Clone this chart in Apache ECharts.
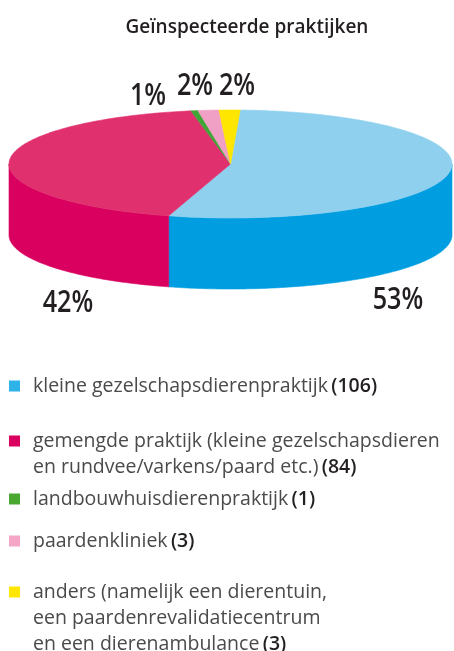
<!DOCTYPE html>
<html>
<head>
<meta charset="utf-8">
<script src="https://cdn.jsdelivr.net/npm/echarts@6/dist/echarts.min.js"></script>
<style>
  html, body { margin: 0; padding: 0; background: #fff; }
  #main { width: 454px; height: 651px; }
</style>
</head>
<body>
<div id="main"></div>
<script>
// categories and counts as in the legend
var categories = [
  'kleine gezelschapsdierenpraktijk',
  'gemengde praktijk (kleine gezelschapsdieren\nen rundvee/varkens/paard etc.)',
  'landbouwhuisdierenpraktijk',
  'paardenkliniek',
  'anders (namelijk een dierentuin,\neen paardenrevalidatiecentrum\nen een dierenambulance'
];
var counts = [106, 84, 1, 3, 3];
var pctLabels = ['53%', '42%', '1%', '2%', '2%'];

var topColors  = ['#8fd0ee', '#e0306e', '#3fa535', '#f0a0c4', '#ffe600'];
var sideColors = ['#009ee0', '#d9005f', '#2f9428', '#e58db2', '#f2d800'];
var legendColors = ['#2db3e8', '#d9005f', '#4aa832', '#f3a6c6', '#ffe600'];

// pie geometry (screen px)
var cx = 230.5, cy = 164, rx = 221.5, ry = 54, depth = 71;
var startAngle = -87.5;   // degrees, clockwise from 3 o'clock

// where the percent labels sit
var labelPos = [[398, 300], [68, 303], [148, 96], [195, 86], [237, 86]];

var total = counts.reduce(function (a, b) { return a + b; }, 0);

function ept(deg, dy) {
  var r = deg * Math.PI / 180;
  return [cx + rx * Math.cos(r), cy + ry * Math.sin(r) + (dy || 0)];
}

function arcPoints(a0, a1, dy) {
  var pts = [];
  var n = Math.max(2, Math.ceil(Math.abs(a1 - a0) / 1));
  for (var k = 0; k <= n; k++) {
    pts.push(ept(a0 + (a1 - a0) * k / n, dy));
  }
  return pts;
}

function renderItem(params, api) {
  var i = params.dataIndex;
  var before = 0;
  for (var j = 0; j < i; j++) before += counts[j];
  var a0 = startAngle + before / total * 360;
  var a1 = a0 + api.value(0) / total * 360;

  var children = [];

  // side wall: only the front half (0..180 deg) is visible
  [-360, 0, 360].forEach(function (k) {
    var s = Math.max(a0, k), e = Math.min(a1, k + 180);
    if (e > s) {
      var pts = arcPoints(s, e, 0).concat(arcPoints(e, s, depth));
      children.push({
        type: 'polygon',
        shape: { points: pts },
        style: { fill: sideColors[i], stroke: sideColors[i], lineWidth: 0.6 }
      });
    }
  });

  // top face
  var topPts = [[cx, cy]].concat(arcPoints(a0, a1, 0));
  children.push({
    type: 'polygon',
    shape: { points: topPts },
    style: { fill: topColors[i], stroke: topColors[i], lineWidth: 0.6 }
  });

  children.push({
    type: 'text',
    x: labelPos[i][0],
    y: labelPos[i][1],
    scaleX: 0.84,
    style: {
      text: pctLabels[i],
      fill: '#231f20',
      font: '600 30px "Open Sans", sans-serif',
      align: 'center',
      verticalAlign: 'middle'
    }
  });

  return { type: 'group', children: children };
}

// legend built from the category arrays
var legendY = [386, 441, 499, 541, 592];
var legendGraphics = [];
categories.forEach(function (name, i) {
  legendGraphics.push({
    type: 'rect',
    shape: { x: 9, y: legendY[i] - 5.5, width: 11, height: 11 },
    style: { fill: legendColors[i] }
  });
  var lines = name.split('\n');
  var txt = lines.map(function (l, n) {
    var s = '{t|' + l + '}';
    if (n === lines.length - 1) s += ' {c|(' + counts[i] + ')}';
    return s;
  }).join('\n');
  legendGraphics.push({
    type: 'text',
    x: 33,
    y: legendY[i] - 13,
    style: {
      text: txt,
      rich: {
        t: { fontSize: 19.5, fontFamily: 'Open Sans', fill: '#4a4a4a', lineHeight: 26 },
        c: { fontSize: 19.5, fontFamily: 'Open Sans', fontWeight: 600, fill: '#231f20', lineHeight: 26 }
      }
    }
  });
});

var chart = echarts.init(document.getElementById('main'));
chart.setOption({
  animation: false,
  title: {
    text: 'Geïnspecteerde praktijken',
    left: 242,
    top: 13,
    textAlign: 'center',
    textStyle: { fontFamily: 'Open Sans', fontSize: 19, fontWeight: 600, color: '#231f20' }
  },
  series: [{
    type: 'custom',
    coordinateSystem: 'none',
    renderItem: renderItem,
    data: counts.map(function (v, i) { return { name: categories[i], value: [v] }; })
  }],
  graphic: legendGraphics
});
</script>
</body>
</html>
